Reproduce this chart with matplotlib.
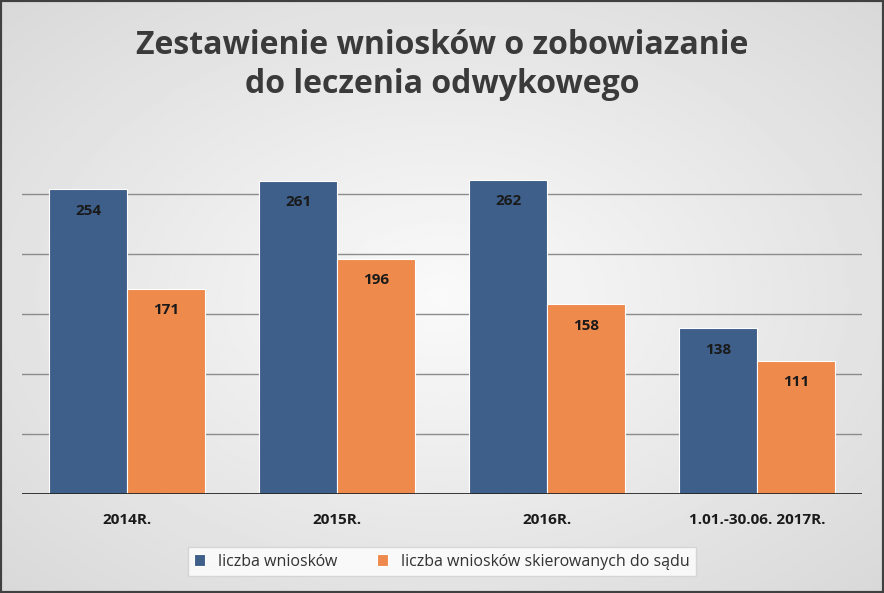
import matplotlib
matplotlib.use("Agg")
import matplotlib.pyplot as plt
import numpy as np

categories = ["2014R.", "2015R.", "2016R.", "1.01.-30.06. 2017R."]
wnioski = [254, 261, 262, 138]
skierowane = [171, 196, 158, 111]
series_names = ["liczba wniosków", "liczba wniosków skierowanych do sądu"]
title = "Zestawienie wniosków o zobowiazanie\ndo leczenia odwykowego"

plt.rcParams["font.family"] = "Open Sans"
fig = plt.figure(figsize=(8.84, 5.93), dpi=100)
bg = fig.add_axes([0, 0, 1, 1], zorder=-10)
yy, xx = np.mgrid[-1:1:300j, -1:1:300j]
r = np.sqrt(xx**2 + yy**2)
bg.imshow(0.98 - 0.13 * np.clip(r / 1.4, 0, 1), cmap="gray", vmin=0, vmax=1, aspect="auto", extent=[0, 1, 0, 1])
bg.axis("off")
fig.patches.append(plt.Rectangle((0, 0), 1, 1, transform=fig.transFigure, fill=False, ec="#404040", lw=3))

ax = fig.add_axes([22/884, 1-494/593, 840/884, (494-134)/593])
ax.patch.set_alpha(0)
x = np.arange(len(categories))
w = 0.37
b1 = ax.bar(x - w/2, wnioski, w, color="#3D5F8A", ec="white", lw=0.8, label=series_names[0], zorder=3)
b2 = ax.bar(x + w/2, skierowane, w, color="#EE8A4C", ec="white", lw=0.8, label=series_names[1], zorder=3)
for bars in (b1, b2):
    for b in bars:
        ax.text(b.get_x() + b.get_width()/2, b.get_height() - 18, str(int(b.get_height())),
                ha="center", va="center", fontsize=11, fontweight="bold", color="#1a1a1a", zorder=4)
ax.set_xlim(-0.5, 3.5)
ax.set_ylim(0, 300)
for v in [50, 100, 150, 200, 250]:
    ax.axhline(v, color="#8c8c8c", lw=1, zorder=1)
ax.axhline(0, color="#262626", lw=2, zorder=5)
ax.set_yticks([])
ax.set_xticks(x)
ax.set_xticklabels(categories, fontsize=11, fontweight="bold", color="#1a1a1a")
ax.tick_params(axis="x", length=0, pad=14)
for s in ax.spines.values():
    s.set_visible(False)
fig.text(0.5, 0.89, title, ha="center", va="center", fontsize=23, fontweight="bold", color="#3a3a3a", linespacing=1.22)
leg = fig.legend(loc="center", bbox_to_anchor=(0.5, 0.053), ncol=2, frameon=True, fontsize=11.5,
                 handlelength=0.7, handleheight=0.7, columnspacing=2.5, fancybox=False, edgecolor="#d0d0d0")
leg.get_frame().set_facecolor("white")
for t in leg.get_texts():
    t.set_color("#333333")
fig.savefig("out.png", dpi=100)
